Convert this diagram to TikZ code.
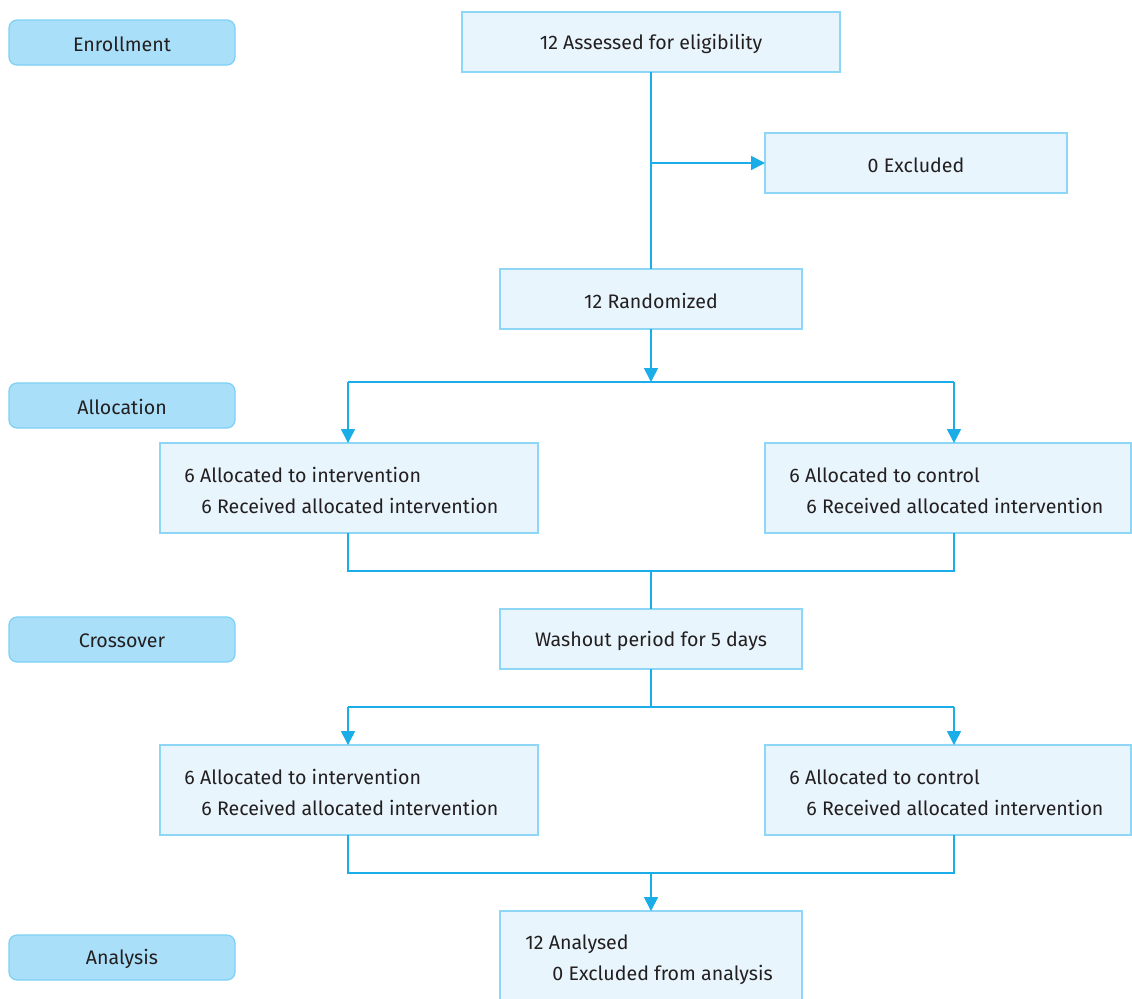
\documentclass[tikz,border=0pt]{standalone}
\usepackage{fontspec}
\setmainfont{Fira Sans}
\usetikzlibrary{arrows.meta}
\definecolor{linec}{HTML}{1AADE8}
\definecolor{boxfill}{HTML}{E8F5FC}
\definecolor{boxdraw}{HTML}{8DD6F5}
\definecolor{labfill}{HTML}{AADFF9}
\definecolor{labdraw}{HTML}{7DD0F5}
\definecolor{txt}{HTML}{231F20}
\begin{document}
\begin{tikzpicture}[x=0.5pt,y=-0.5pt,
  every node/.style={font=\fontsize{9.8}{11}\selectfont, text=txt, inner sep=0pt},
  flowbox/.style={fill=boxfill, draw=boxdraw, line width=0.8pt},
  stagebox/.style={fill=labfill, draw=labdraw, line width=0.6pt, rounded corners=4pt},
  conn/.style={draw=linec, line width=0.8pt},
  arr/.style={conn, -{Triangle[length=7pt,width=7pt]}}]
\useasboundingbox (0,0) rectangle (1132,998);
\clip (0,0) rectangle (1132,998);
% stage labels
\draw[stagebox] (9,20) rectangle (235,65);
\node (enr) at (122,44) {Enrollment};
\draw[stagebox] (9,383) rectangle (235,428);
\node (alloc) at (122,407) {Allocation};
\draw[stagebox] (9,617) rectangle (235,662);
\node (cross) at (122,641) {Crossover};
\draw[stagebox] (9,935) rectangle (235,980);
\node (anal) at (122,959) {Analysis};
% boxes
\draw[flowbox] (462,12) rectangle (840,72);
\node (assess) at (651,44) {12 Assessed for eligibility};
\draw[flowbox] (765,133) rectangle (1067,193);
\node (excl) at (916,165) {0 Excluded};
\draw[flowbox] (500,269) rectangle (802,329);
\node (rand) at (651,301) {12 Randomized};
\draw[flowbox] (160,443) rectangle (538,533);
\node[anchor=west] (l1a) at (184,475) {6 Allocated to intervention};
\node[anchor=west] (l1b) at (201,506) {6 Received allocated intervention};
\draw[flowbox] (765,443) rectangle (1131,533);
\node[anchor=west] (r1a) at (789,475) {6 Allocated to control};
\node[anchor=west] (r1b) at (806,506) {6 Received allocated intervention};
\draw[flowbox] (500,609) rectangle (802,669);
\node (wash) at (651,641) {Washout period for 5 days};
\draw[flowbox] (160,745) rectangle (538,835);
\node[anchor=west] (l2a) at (184,777) {6 Allocated to intervention};
\node[anchor=west] (l2b) at (201,808) {6 Received allocated intervention};
\draw[flowbox] (765,745) rectangle (1131,835);
\node[anchor=west] (r2a) at (789,777) {6 Allocated to control};
\node[anchor=west] (r2b) at (806,808) {6 Received allocated intervention};
\draw[flowbox] (500,911) rectangle (802,1010);
\node[anchor=west] (ana) at (525,944) {12 Analysed};
\node[anchor=west] (anb) at (552,975) {0 Excluded from analysis};
% coordinates
\coordinate (c1) at (651,72);
\coordinate (c2) at (651,163);
\coordinate (c3) at (765,163);
\coordinate (c4) at (651,269);
\coordinate (c5) at (651,329);
\coordinate (c6) at (651,382);
\coordinate (c7) at (348,382);
\coordinate (c8) at (954,382);
\coordinate (c9) at (348,443);
\coordinate (c10) at (954,443);
\coordinate (d1) at (348,533);
\coordinate (d2) at (954,533);
\coordinate (d3) at (348,571);
\coordinate (d4) at (954,571);
\coordinate (d5) at (651,571);
\coordinate (d6) at (651,609);
\coordinate (e1) at (651,669);
\coordinate (e2) at (651,707);
\coordinate (e3) at (348,707);
\coordinate (e4) at (954,707);
\coordinate (e5) at (348,745);
\coordinate (e6) at (954,745);
\coordinate (f1) at (348,835);
\coordinate (f2) at (954,835);
\coordinate (f3) at (348,873);
\coordinate (f4) at (954,873);
\coordinate (f5) at (651,873);
\coordinate (f6) at (651,911);
% connectors
\draw[conn] (c1) -- (c4);
\draw[arr] (c2) -- (c3);
\draw[arr] (c5) -- (c6);
\draw[conn] (c7) -- (c8);
\draw[arr] (c7) -- (c9);
\draw[arr] (c8) -- (c10);
\draw[conn] (d1) -- (d3) -- (d4) -- (d2);
\draw[conn] (d5) -- (d6);
\draw[conn] (e1) -- (e2);
\draw[conn] (e3) -- (e4);
\draw[arr] (e3) -- (e5);
\draw[arr] (e4) -- (e6);
\draw[conn] (f1) -- (f3) -- (f4) -- (f2);
\draw[arr] (f5) -- (f6);
\end{tikzpicture}
\end{document}
